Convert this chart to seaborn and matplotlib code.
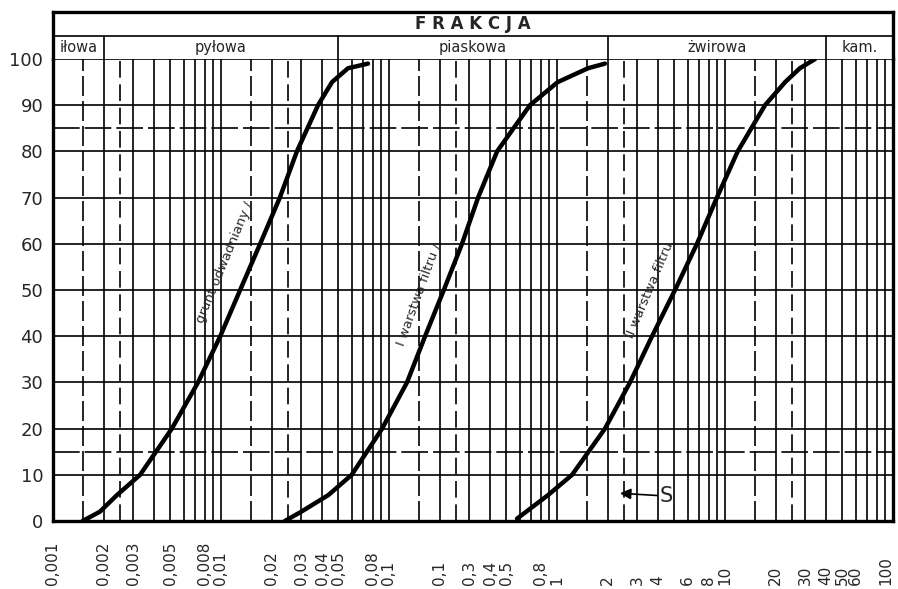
import numpy as np
import pandas as pd
import matplotlib
matplotlib.use("Agg")
import matplotlib.pyplot as plt
import seaborn as sns

# ---- data ----
c1_d = [0.0015, 0.0019, 0.0024, 0.0033, 0.0051, 0.0073, 0.0099, 0.013, 0.0171, 0.0224, 0.0283, 0.0378, 0.0458, 0.057, 0.075]
c1_p = [0, 2, 5.6, 10, 20, 30, 40, 50, 60, 70, 80, 90, 95, 98, 99]
c2_d = [0.024, 0.030, 0.0435, 0.060, 0.091, 0.128, 0.164, 0.212, 0.272, 0.339, 0.44, 0.69, 1.01, 1.53, 1.93]
c2_p = [0, 2, 5.6, 10, 20, 30, 40, 50, 60, 70, 80, 90, 95, 98, 99]
c3_d = [0.578, 0.884, 1.23, 1.93, 2.72, 3.68, 5.04, 6.81, 8.95, 11.9, 17.3, 22.8, 27.9, 34.4]
c3_p = [0.5, 5.6, 10, 20, 30, 40, 50, 60, 70, 80, 90, 95, 98, 100]

curve_names = ["grunt odwadniany /", "I warstwa filtru /", "II warstwa filtru"]

frac_names = ["iłowa", "pyłowa", "piaskowa", "żwirowa", "kam."]
frac_bounds = [0.001, 0.002, 0.05, 2, 40, 100]
header_title = "F R A K C J A"

xtick_vals = [0.001, 0.002, 0.003, 0.005, 0.008, 0.01, 0.02, 0.03, 0.04, 0.05, 0.08, 0.1,
              0.2, 0.3, 0.4, 0.5, 0.8, 1, 2, 3, 4, 6, 8, 10, 20, 30, 40, 50, 60, 100]
xtick_labels = ["0,001", "0,002", "0,003", "0,005", "0,008", "0,01", "0,02", "0,03", "0,04",
                "0,05", "0,08", "0,1", "0,1", "0,3", "0,4", "0,5", "0,8", "1", "2", "3", "4",
                "6", "8", "10", "20", "30", "40", "50", "60", "100"]
ytick_vals = [0, 10, 20, 30, 40, 50, 60, 70, 80, 90, 100]
extra_h = [15, 85]

s_label = "S"
s_tip = (2.37, 6.0)
s_text = (4.1, 5.4)

# ---- style ----
sns.set_style("white")
plt.rcParams["font.family"] = ["DejaVu Sans"]

df = pd.concat([
    pd.DataFrame({"d": c1_d, "p": c1_p, "curve": curve_names[0]}),
    pd.DataFrame({"d": c2_d, "p": c2_p, "curve": curve_names[1]}),
    pd.DataFrame({"d": c3_d, "p": c3_p, "curve": curve_names[2]}),
])

fig = plt.figure(figsize=(8.98, 5.89), dpi=100)
L, R = 53 / 898, 893 / 898
B, T = 1 - 521 / 589, 1 - 59 / 589
HT = 1 - 12 / 589
ax = fig.add_axes([L, B, R - L, T - B])
hx = fig.add_axes([L, T, R - L, HT - T], sharex=ax)

ax.set_xscale("log")
ax.set_xlim(0.001, 100)
ax.set_ylim(0, 100)

# grid
lw_grid = 1.2
for dec in [0.001, 0.01, 0.1, 1, 10]:
    for m in range(1, 10):
        v = dec * m
        if v <= 0.001:
            continue
        ax.axvline(v, color="black", lw=lw_grid, zorder=1)
    ax.axvline(dec * 1.5, color="black", lw=lw_grid, ls=(0, (12, 3)), zorder=1)
    ax.axvline(dec * 2.5, color="black", lw=lw_grid, ls=(0, (10, 4)), zorder=1)
for y in ytick_vals[1:-1]:
    ax.axhline(y, color="black", lw=lw_grid, zorder=1)
for y in extra_h:
    ax.axhline(y, color="black", lw=lw_grid, ls=(0, (16, 3)), zorder=1)

sns.lineplot(data=df, x="d", y="p", hue="curve", palette=["black"] * 3,
             linewidth=3.2, legend=False, ax=ax, sort=False, estimator=None, zorder=3)

# curve labels
lab_pos = [(0.0105, 56, 67.5), (0.150, 49, 70), (3.55, 50, 67)]
for name, (x, y, r) in zip(curve_names, lab_pos):
    ax.text(x, y, name, rotation=r, ha="center", va="center", fontsize=9.5,
            rotation_mode="anchor", zorder=4)

# S arrow
ax.annotate(s_label, xy=s_tip, xytext=s_text, fontsize=15, ha="left", va="center",
            arrowprops=dict(arrowstyle="-|>", color="black", lw=1.2, mutation_scale=16,
                            shrinkA=0, shrinkB=0), zorder=5)

# axes cosmetics
ax.set_xlabel("")
ax.set_ylabel("")
ax.set_yticks(ytick_vals)
ax.set_yticklabels([str(v) for v in ytick_vals], fontsize=13)
ax.tick_params(axis="y", length=0, pad=7)
ax.set_xticks([])
ax.xaxis.set_minor_locator(matplotlib.ticker.NullLocator())
for i, (v, t) in enumerate(zip(xtick_vals, xtick_labels)):
    ha = "right" if i == len(xtick_vals) - 1 else "center"
    ax.text(v, -0.138, t, rotation=90, ha=ha, va="bottom", fontsize=11,
            transform=ax.get_xaxis_transform(), clip_on=False)
for s in ["left", "right", "bottom"]:
    ax.spines[s].set_linewidth(2.4)
    ax.spines[s].set_color("black")
ax.spines["top"].set_linewidth(1.2)
ax.spines["top"].set_color("black")

# header
hx.set_ylim(0, 2)
hx.tick_params(left=False, bottom=False, labelleft=False, labelbottom=False)
for s in ["left", "right", "top"]:
    hx.spines[s].set_linewidth(2.4)
    hx.spines[s].set_color("black")
hx.spines["bottom"].set_visible(False)
hx.axhline(1, color="black", lw=1.2)
for b in frac_bounds[1:-1]:
    hx.plot([b, b], [0, 1], color="black", lw=1.2)
hx.text(np.sqrt(0.001 * 100), 1.5, header_title, ha="center", va="center",
        fontsize=12, fontweight="bold")
for name, a, b in zip(frac_names, frac_bounds[:-1], frac_bounds[1:]):
    hx.text(np.sqrt(a * b), 0.5, name, ha="center", va="center", fontsize=10.5)

fig.savefig("out.png", dpi=100)
